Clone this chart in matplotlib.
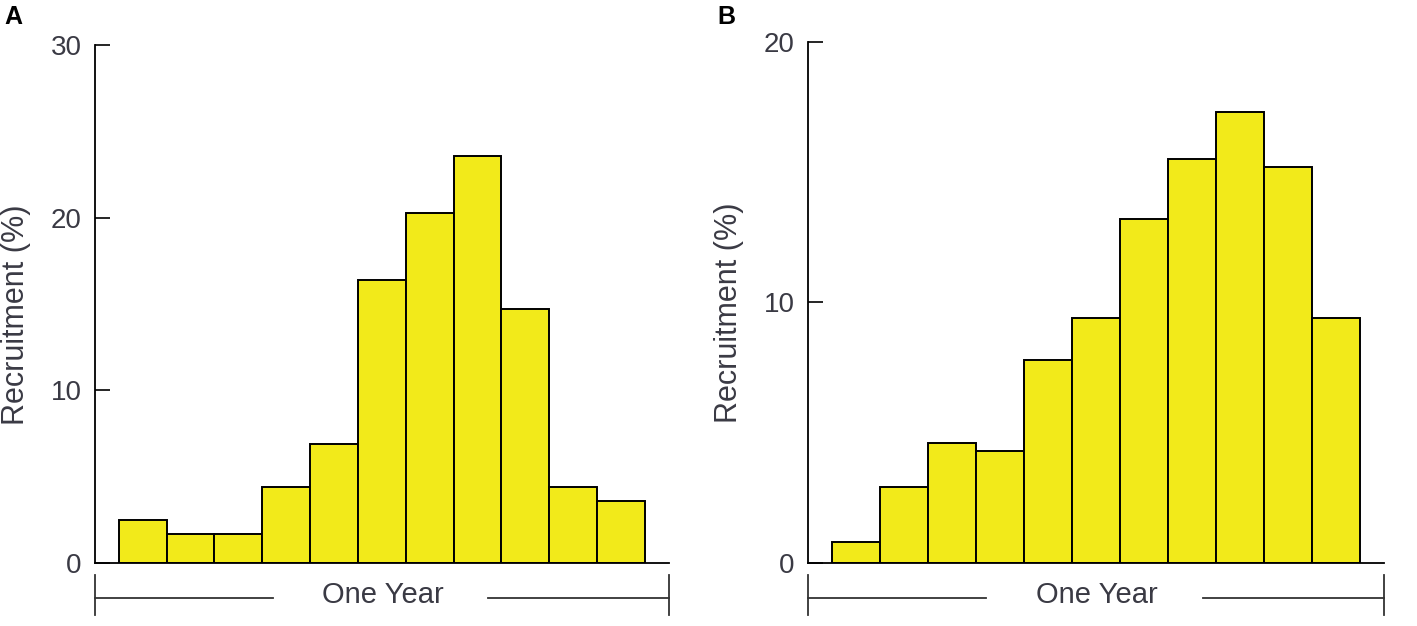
import numpy as np
import matplotlib.pyplot as plt

# recruitment per time interval (one year split in 11 bins)
bins = np.arange(11)
recruit_a = [2.5, 1.7, 1.7, 4.4, 6.9, 16.4, 20.3, 23.6, 14.7, 4.4, 3.6]
recruit_b = [0.8, 2.9, 4.6, 4.3, 7.8, 9.4, 13.2, 15.5, 17.3, 15.2, 9.4]
yticks_a = [0, 10, 20, 30]
yticks_b = [0, 10, 20]

bar_color = '#F2EA1A'
text_color = '#3a3a44'

plt.rcParams['font.family'] = ['Liberation Sans', 'DejaVu Sans']

fig = plt.figure(figsize=(14.17, 6.26), dpi=100)
ax_a = fig.add_axes([0.067, 0.1006, 0.405, 0.8275])
ax_b = fig.add_axes([0.570, 0.1006, 0.407, 0.8325])


def draw_panel(ax, values, yticks, letter, letter_x):
    ax.bar(bins, values, width=1.0, color=bar_color, edgecolor='black', linewidth=1.4)
    ax.set_xlim(-1.0, 11.0)
    ax.set_ylim(0, yticks[-1])
    ax.set_yticks(yticks)
    ax.set_xticks([])
    ax.tick_params(axis='y', direction='in', length=11, width=1.2,
                   labelsize=20, labelcolor=text_color, pad=9.5)
    for side in ['top', 'right']:
        ax.spines[side].set_visible(False)
    ax.spines['left'].set_linewidth(1.3)
    ax.spines['bottom'].set_linewidth(1.3)
    ax.text(-0.137, 0.48, 'Recruitment (%)', transform=ax.transAxes, rotation=90,
            ha='center', va='center', fontsize=22, color=text_color)

    # "One Year" bracket under the axis
    kw = dict(transform=ax.transAxes, color='#333333', lw=1.3, clip_on=False)
    ax.plot([0, 0.31], [-0.067, -0.067], **kw)
    ax.plot([0.685, 1.0], [-0.067, -0.067], **kw)
    ax.plot([0, 0], [-0.023, -0.10], **kw)
    ax.plot([1.0, 1.0], [-0.023, -0.10], **kw)
    ax.text(0.502, -0.062, 'One Year', transform=ax.transAxes, ha='center', va='center',
            fontsize=21, color=text_color)

    fig.text(letter_x, 0.973, letter, fontsize=18, fontweight='bold', ha='left', va='center')


draw_panel(ax_a, recruit_a, yticks_a, 'A', 0.003)
draw_panel(ax_b, recruit_b, yticks_b, 'B', 0.506)

fig.savefig('out.png', dpi=100)
